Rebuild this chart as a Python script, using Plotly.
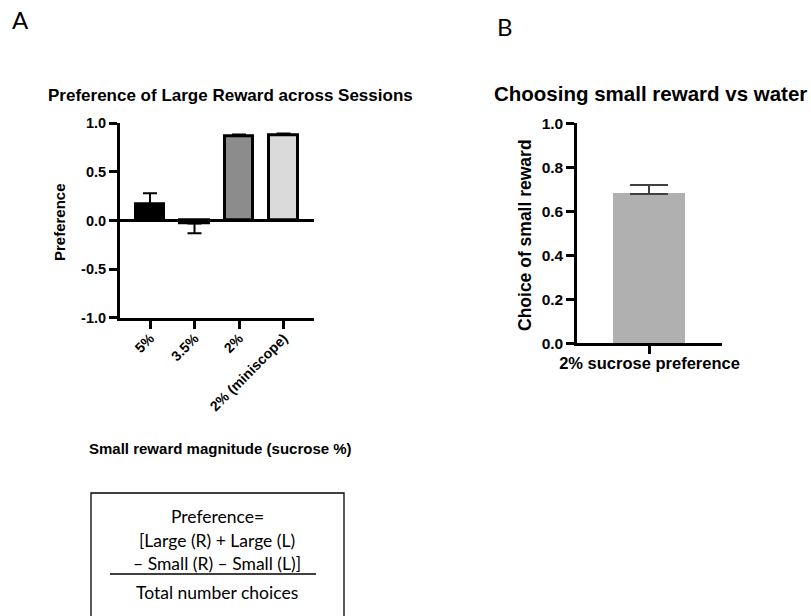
import plotly.graph_objects as go

W, H = 811, 616

# ---- Data ----
a_categories = ["5%", "3.5%", "2%", "2% (miniscope)"]
a_values = [0.17, -0.03, 0.87, 0.88]
a_err_up = [0.11, 0.0, 0.015, 0.015]
a_err_down = [0.0, 0.10, 0.0, 0.0]
a_colors = ["#000000", "#000000", "#8c8c8c", "#dadada"]

b_categories = ["2% sucrose preference"]
b_values = [0.68]
b_err_up = [0.04]
b_err_down = [0.0]

a_yticks = [-1.0, -0.5, 0.0, 0.5, 1.0]
b_yticks = [0.0, 0.2, 0.4, 0.6, 0.8, 1.0]

formula_lines = ["Preference=", "[Large (R) + Large (L)", "\u2013 Small (R) \u2013 Small (L)]", "Total number choices"]

ARIAL = "Liberation Sans, Arial, sans-serif"
CAL = "Lato, Open Sans, sans-serif"


def px(x):
    return x / W


def py(y):
    return 1 - y / H


fig = go.Figure()

fig.add_trace(go.Bar(
    x=list(range(len(a_categories))), y=a_values, width=0.65,
    marker=dict(color=a_colors, line=dict(color="black", width=3)),
    error_y=dict(type="data", symmetric=False, array=a_err_up, arrayminus=a_err_down,
                 color="black", thickness=2, width=7),
    xaxis="x", yaxis="y", showlegend=False,
))

fig.add_trace(go.Bar(
    x=list(range(len(b_categories))), y=b_values, width=0.5,
    marker=dict(color="#b0b0b0", line=dict(width=0)),
    error_y=dict(type="data", symmetric=False, array=b_err_up, arrayminus=b_err_down,
                 color="#404040", thickness=2, width=19),
    xaxis="x2", yaxis="y2", showlegend=False,
))

axis_common = dict(showline=True, linecolor="black", linewidth=3, ticks="outside",
                   ticklen=8, tickwidth=2.5, tickcolor="black", showgrid=False,
                   fixedrange=True, automargin=False)

fig.update_layout(
    width=W, height=H, autosize=False,
    margin=dict(l=0, r=0, t=0, b=0, pad=0, autoexpand=False),
    paper_bgcolor="white", plot_bgcolor="white",
    font=dict(family=ARIAL, color="black"),
    bargap=0,
    xaxis=dict(domain=[px(120), px(314)], range=[-0.674, 3.685], anchor="y",
               tickvals=list(range(len(a_categories))),
               ticktext=["<b>%s</b>" % c for c in a_categories],
               tickangle=-45, zeroline=False, ticklabelstandoff=-4,
               tickfont=dict(family=ARIAL, size=14, color="black"), **axis_common),
    yaxis=dict(domain=[py(317.7), py(123.3)], range=[-1, 1], anchor="x",
               tickvals=a_yticks, ticktext=["<b>%.1f</b>" % v for v in a_yticks],
               zeroline=True, zerolinecolor="black", zerolinewidth=2.5,
               tickfont=dict(family=ARIAL, size=14.5, color="black"), **axis_common),
    xaxis2=dict(domain=[px(577.3), px(721.7)], range=[-0.5, 0.5], anchor="y2",
                tickvals=list(range(len(b_categories))),
                ticktext=["<b>%s</b>" % c for c in b_categories],
                tickangle=0, zeroline=False, ticklabelstandoff=-5,
                tickfont=dict(family=ARIAL, size=16.5, color="black"), **axis_common),
    yaxis2=dict(domain=[py(343.3), py(123.3)], range=[0, 1], anchor="x2",
                tickvals=b_yticks, ticktext=["<b>%.1f</b>" % v for v in b_yticks],
                zeroline=False,
                tickfont=dict(family=ARIAL, size=15.5, color="black"), **axis_common),
)

ann = []


def add_text(text, x, y, size, family=ARIAL, angle=0, bold=True):
    ann.append(dict(text=("<b>%s</b>" % text) if bold else text, x=px(x), y=py(y),
                    xref="paper", yref="paper", showarrow=False, textangle=angle,
                    xanchor="center", yanchor="middle",
                    font=dict(family=family, size=size, color="black")))


add_text("Preference of Large Reward across Sessions", 230, 95, 17)
add_text("Choosing small reward vs water", 650, 93, 20.5)
add_text("Preference", 59, 222, 15, angle=-90)
add_text("Choice of small reward", 525, 235, 17.5, angle=-90)
add_text("Small reward magnitude (sucrose %)", 221, 448, 15)
add_text("A", 20, 20, 24, family=CAL, bold=False)
add_text("B", 505, 27, 24, family=CAL, bold=False)

line_y = [516, 540, 563, 592]
for t, yy in zip(formula_lines, line_y):
    add_text(t, 217, yy, 17.5, family=CAL, bold=False)

fig.update_layout(annotations=ann)

fig.add_shape(type="rect", xref="paper", yref="paper",
              x0=px(91), x1=px(344), y0=py(640), y1=py(493),
              line=dict(color="black", width=1.3), fillcolor="rgba(0,0,0,0)")
fig.add_shape(type="line", xref="paper", yref="paper",
              x0=px(110), x1=px(316), y0=py(574), y1=py(574),
              line=dict(color="black", width=1.3))

fig.write_html("out.html")
